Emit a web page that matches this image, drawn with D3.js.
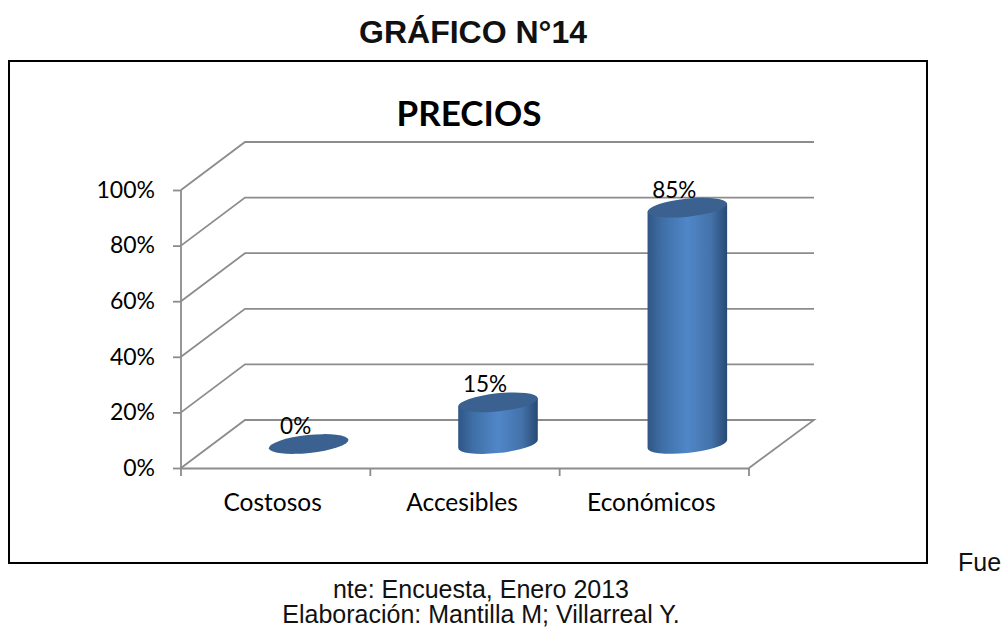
<!DOCTYPE html>
<html>
<head>
<meta charset="utf-8">
<script src="https://cdnjs.cloudflare.com/ajax/libs/d3/7.8.5/d3.min.js"></script>
<style>
  html, body { margin: 0; padding: 0; background: #fff; }
  svg { display: block; }
  .chart-text { font-family: Lato, "Open Sans", sans-serif; fill: #000; }
  .page-text { font-family: "Liberation Sans", Arial, sans-serif; fill: #111; }
</style>
</head>
<body>
<svg id="area"></svg>
<script>
const categories = ["Costosos", "Accesibles", "Económicos"];
const values = [0, 15, 85];
const valueLabels = ["0%", "15%", "85%"];
const yTicks = [0, 20, 40, 60, 80, 100];

const width = 1002, height = 628;
const plot = { left: 181, right: 749, top: 190, bottom: 468 };
const depth = { x: 64, y: 48 };
const gridColor = "#8c8c8c";

const svg = d3.select("svg#area")
  .attr("width", width)
  .attr("height", height);

const x = d3.scaleBand()
  .domain(categories)
  .range([plot.left, plot.right]);

const y = d3.scaleLinear()
  .domain([0, 100])
  .range([plot.bottom, plot.top]);

// gradient for the cylinder walls
const grad = svg.append("defs").append("linearGradient")
  .attr("id", "wall")
  .attr("x1", "0%").attr("x2", "100%")
  .attr("y1", "0%").attr("y2", "0%");
[[0, "#2f5685"], [0.18, "#3f6ea5"], [0.5, "#5087c8"], [0.8, "#4472aa"], [1, "#274a72"]]
  .forEach(s => grad.append("stop").attr("offset", s[0]).attr("stop-color", s[1]));

// page frame and headings
svg.append("rect")
  .attr("x", 9).attr("y", 61)
  .attr("width", 918).attr("height", 502)
  .attr("fill", "#fff").attr("stroke", "#000").attr("stroke-width", 2);

svg.append("text").attr("class", "page-text")
  .attr("x", 473).attr("y", 43)
  .attr("text-anchor", "middle")
  .attr("font-size", 32).attr("font-weight", "bold")
  .text("GRÁFICO N°14");

svg.append("text").attr("class", "chart-text")
  .attr("x", 469).attr("y", 126)
  .attr("text-anchor", "middle")
  .attr("font-size", 35).attr("font-weight", "bold")
  .text("PRECIOS");

// back wall + side wall gridlines
const gridLine = d3.line();
svg.append("g").selectAll("path")
  .data(yTicks.slice(1))
  .enter().append("path")
  .attr("fill", "none")
  .attr("stroke", gridColor)
  .attr("stroke-width", 1.8)
  .attr("d", d => gridLine([
    [plot.left, y(d)],
    [plot.left + depth.x, y(d) - depth.y],
    [plot.right + depth.x + 1, y(d) - depth.y]
  ]));

// floor
svg.append("path")
  .attr("fill", "none")
  .attr("stroke", gridColor)
  .attr("stroke-width", 1.8)
  .attr("d", gridLine([
    [plot.left, y(0)],
    [plot.left + depth.x, y(0) - depth.y],
    [plot.right + depth.x + 1, y(0) - depth.y],
    [plot.right, y(0)]
  ]));

// axes
const yAxis = d3.axisLeft(y)
  .tickValues(yTicks)
  .tickSize(8)
  .tickSizeOuter(0)
  .tickPadding(18)
  .tickFormat(d => d + "%");

const yAxisG = svg.append("g")
  .attr("transform", "translate(" + plot.left + ",0)")
  .call(yAxis);

const xAxis = d3.axisBottom(x)
  .tickSize(0)
  .tickPadding(26);

const xAxisG = svg.append("g")
  .attr("transform", "translate(0," + plot.bottom + ")")
  .call(xAxis);

// category separators, the band axis puts its ticks mid-band
xAxisG.selectAll(".sep")
  .data(categories.concat([null]))
  .enter().append("line")
  .attr("class", "sep")
  .attr("x1", d => d === null ? plot.right : x(d))
  .attr("x2", d => d === null ? plot.right : x(d))
  .attr("y1", 0).attr("y2", 8)
  .attr("stroke", gridColor).attr("stroke-width", 1.8);

[yAxisG, xAxisG].forEach(g => {
  g.selectAll(".domain, .tick line").attr("stroke", gridColor).attr("stroke-width", 1.8);
  g.selectAll("text").attr("class", "chart-text");
});
yAxisG.selectAll("text").attr("font-size", 23);
xAxisG.selectAll("text").attr("font-size", 24.5);
xAxisG.selectAll(".tick text").attr("dx", -3);
yAxisG.select(".domain").attr("d", "M0," + y(100) + "V" + y(0));

// cylinders
const rx = 40, ry = 9, tilt = -6;
const barCx = d => x(d) + x.bandwidth() / 2 + depth.x / 2 + 1;
const floorY = y(0) - depth.y / 2;
const topY = v => y(v) - depth.y / 2;
// where the tilted ellipse meets its vertical tangents
const sinT = Math.sin(tilt * Math.PI / 180), cosT = Math.cos(tilt * Math.PI / 180);
const halfW = Math.sqrt(rx * rx * cosT * cosT + ry * ry * sinT * sinT);
const dy = (rx * rx - ry * ry) * sinT * cosT / halfW;

const bars = svg.append("g").selectAll("g")
  .data(categories.map((c, i) => ({ c: c, v: values[i], label: valueLabels[i] })))
  .enter().append("g");

bars.filter(d => d.v > 0).append("path")
  .attr("fill", "url(#wall)")
  .attr("d", d => {
    const cx = barCx(d.c);
    return "M" + (cx - halfW) + "," + (topY(d.v) - dy) +
      "L" + (cx + halfW) + "," + (topY(d.v) + dy) +
      "L" + (cx + halfW) + "," + (floorY + dy) +
      "A" + rx + "," + ry + " " + tilt + " 0 1 " + (cx - halfW) + "," + (floorY - dy) + "Z";
  });

bars.append("ellipse")
  .attr("rx", rx).attr("ry", ry)
  .attr("fill", "#3a618f")
  .attr("transform", d => "translate(" + barCx(d.c) + "," + topY(d.v) + ") rotate(" + tilt + ")");

bars.append("text")
  .attr("class", "chart-text")
  .attr("x", d => barCx(d.c) - 13)
  .attr("y", d => topY(d.v) - 10)
  .attr("text-anchor", "middle")
  .attr("font-size", 22.5)
  .text(d => d.label);

// source lines under the frame
const sourceLines = [
  { text: "Fue", x: 958, y: 571, anchor: "start" },
  { text: "nte: Encuesta, Enero 2013", x: 481, y: 598, anchor: "middle" },
  { text: "Elaboración: Mantilla M; Villarreal Y.", x: 481, y: 623, anchor: "middle" }
];
svg.append("g").selectAll("text")
  .data(sourceLines)
  .enter().append("text")
  .attr("class", "page-text")
  .attr("x", d => d.x).attr("y", d => d.y)
  .attr("text-anchor", d => d.anchor)
  .attr("font-size", 25)
  .text(d => d.text);
</script>
</body>
</html>
